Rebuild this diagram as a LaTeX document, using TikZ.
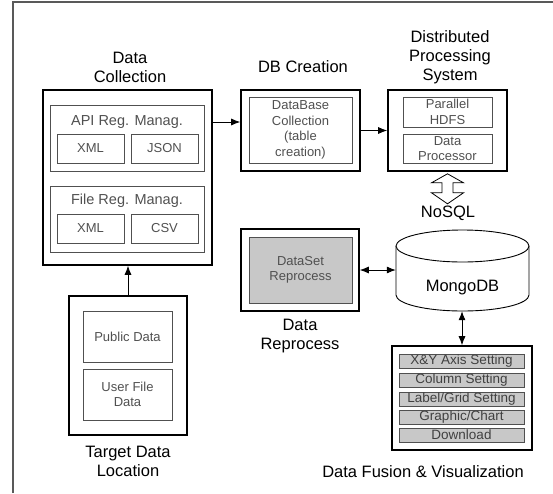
\documentclass[tikz,border=0pt]{standalone}
\usepackage{fontspec}
\setmainfont{Liberation Sans}
\usetikzlibrary{arrows.meta,positioning}
\definecolor{inner}{HTML}{505050}
\definecolor{shade}{HTML}{C8C8C8}

\begin{document}
\begin{tikzpicture}[x=1pt,y=-1pt,
  outer/.style={draw,line width=1.6pt,inner sep=0pt},
  grp/.style={draw=inner,line width=0.9pt,inner sep=0pt},
  cell/.style={draw=inner,line width=0.9pt,align=center,text=inner,inner sep=0pt,font=\fontsize{13}{15.5}\selectfont},
  row/.style={cell,fill=shade,text=black!75,minimum width=125pt,minimum height=14pt,font=\fontsize{13.5}{14}\selectfont},
  ttl/.style={align=center,font=\fontsize{16.5}{19}\selectfont},
  arr/.style={-{Latex[length=9pt,width=7pt]},line width=0.8pt},
  darr/.style={{Latex[length=9pt,width=7pt]}-{Latex[length=9pt,width=7pt]},line width=0.8pt}]
\useasboundingbox (0,0) rectangle (553,493);
\draw[line width=1.4pt,black!65] (13,493) -- (13,2) -- (553,2);

% data collection
\node[outer,minimum width=169pt,minimum height=175pt] (dc) at (127.5,177.5) {};
\node[ttl] at (130,67) {Data\\Collection};
\node[grp,minimum width=154pt,minimum height=66pt] (apig) at (127,138) {};
\node[text=inner,font=\fontsize{14.5}{16}\selectfont] (apit) at (127,122) {API Reg. Manag.};
\node[cell,minimum width=67pt,minimum height=29pt] (xmla) at (90.5,148.5) {XML};
\node[cell,minimum width=67pt,minimum height=29pt] (json) at (164.5,148.5) {JSON};
\node[grp,minimum width=154pt,minimum height=66pt] (fileg) at (127,219) {};
\node[text=inner,font=\fontsize{14.5}{16}\selectfont] (filet) at (127,201) {File Reg. Manag.};
\node[cell,minimum width=67pt,minimum height=29pt] (xmlb) at (90.5,228.5) {XML};
\node[cell,minimum width=67pt,minimum height=29pt] (csv) at (164.5,228.5) {CSV};

% db creation
\node[outer,minimum width=119pt,minimum height=81pt] (dbc) at (300.5,130.5) {};
\node[ttl] at (303,67) {DB Creation};
\node[cell,minimum width=103pt,minimum height=66pt] (dbtab) at (300.5,130) {DataBase\\Collection\\(table\\creation)};

% distributed processing
\node[outer,minimum width=119pt,minimum height=81pt] (dps) at (447.5,130.5) {};
\node[ttl] at (450,57) {Distributed\\Processing\\System};
\node[cell,minimum width=89pt,minimum height=30pt] (hdfs) at (447.5,112) {Parallel\\HDFS};
\node[cell,minimum width=89pt,minimum height=29pt] (proc) at (447.5,148.5) {Data\\Processor};

% nosql store
\node[ttl] (nosql) at (448,213) {NoSQL};
\node[minimum width=133pt,minimum height=81pt,inner sep=0pt] (mongo) at (462.5,270.5) {};
\draw[line width=0.9pt,fill=white] (396,246) -- (396,295) arc[start angle=180,end angle=0,x radius=66.5,y radius=16] -- (529,246);
\draw[line width=0.9pt,fill=white] (462.5,246) ellipse[x radius=66.5,y radius=16];
\node[ttl] at (462.5,288) {MongoDB};
\draw[line width=0.8pt,fill=white] ([yshift=-2pt]dps.south) -- ++(16,9) -- ++(-10.5,0) -- ++(0,10) -- ++(10.5,0)
  -- ++(-16,11) -- ++(-16,-11) -- ++(10.5,0) -- ++(0,-10) -- ++(-10.5,0) -- cycle;

% reprocess
\node[outer,minimum width=118pt,minimum height=82pt] (drp) at (300,270) {};
\node[cell,fill=shade,minimum width=103pt,minimum height=66pt] (dset) at (300.5,270) {DataSet\\Reprocess};
\node[ttl] at (300,336) {Data\\Reprocess};

% fusion and visualization
\node[outer,minimum width=140pt,minimum height=104pt] (vis) at (462,398) {};
\node[row] (r1) at (461.5,361) {X\&Y Axis Setting};
\node[row] (r2) at (461.5,380) {Column Setting};
\node[row] (r3) at (461.5,399) {Label/Grid Setting};
\node[row] (r4) at (461.5,417) {Graphic/Chart};
\node[row] (r5) at (461.5,435) {Download};
\node[ttl] at (423,472) {Data Fusion \& Visualization};

% target data
\node[outer,minimum width=118pt,minimum height=139pt] (tdl) at (128,365.5) {};
\node[cell,minimum width=89pt,minimum height=51pt] (pub) at (127.5,336.5) {Public Data};
\node[cell,minimum width=89pt,minimum height=51pt] (usr) at (127.5,394.5) {User File\\Data};
\node[ttl] at (128,461) {Target Data\\Location};

\draw[arr] (dc.east |- apit) -- (dbc.west |- apit);
\draw[arr] (dbc) -- (dps);
\draw[darr] (drp.east) -- (drp.east -| mongo.west);
\draw[darr] (mongo.south -| vis.north) -- (vis.north);
\draw[arr] (tdl.north) -- (tdl.north |- dc.south);
\end{tikzpicture}
\end{document}
